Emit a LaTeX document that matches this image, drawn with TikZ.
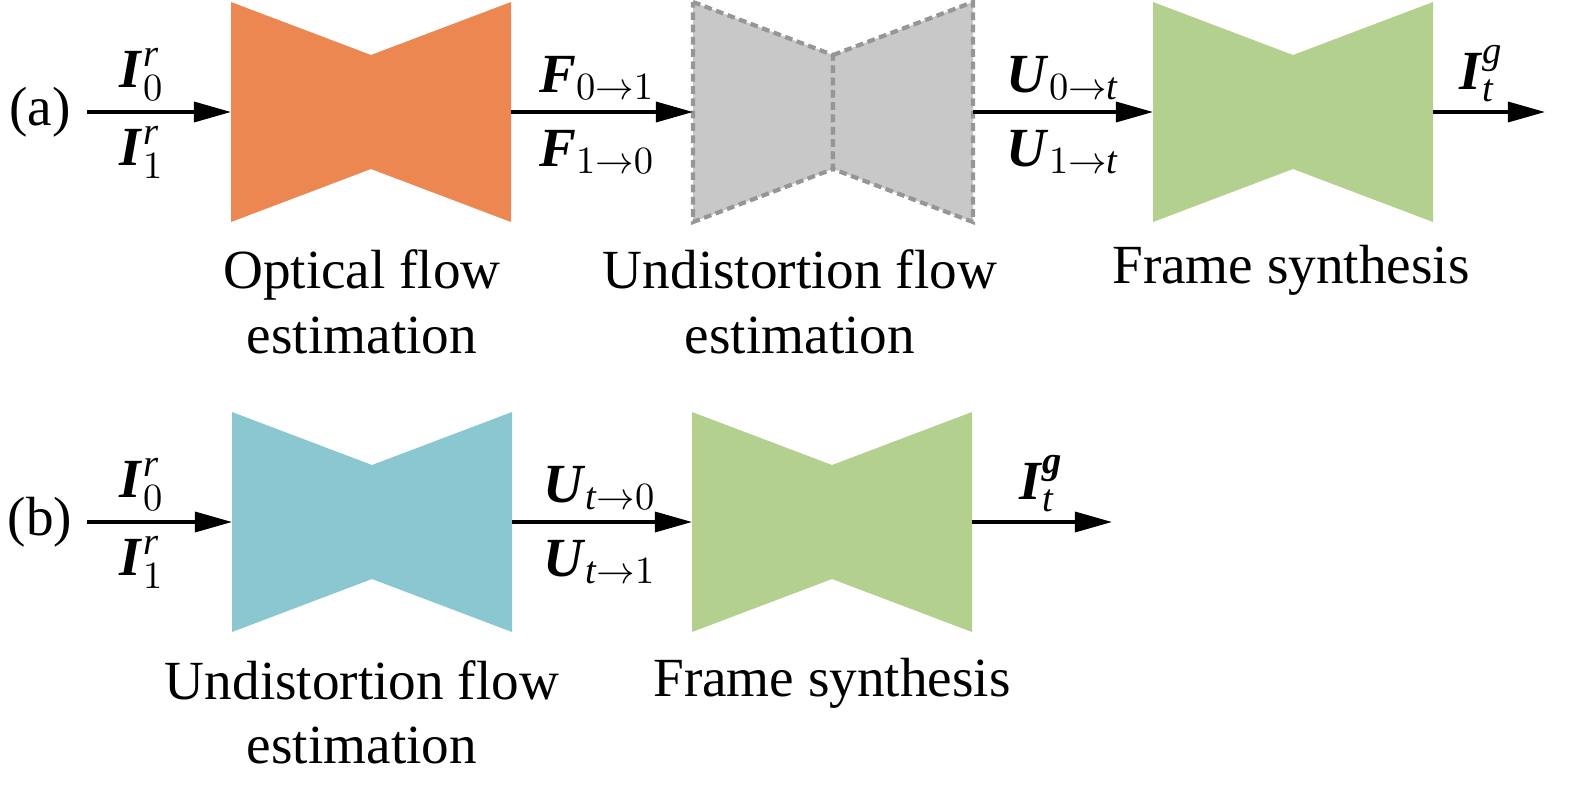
\documentclass[tikz,border=0pt]{standalone}
\usepackage{amsmath}
\usepackage{fontspec}
\setmainfont{Liberation Serif}
\usetikzlibrary{arrows.meta}

\definecolor{netorange}{RGB}{237,135,82}
\definecolor{netgray}{RGB}{200,200,200}
\definecolor{netedge}{RGB}{150,150,150}
\definecolor{netgreen}{RGB}{179,208,143}
\definecolor{netcyan}{RGB}{139,199,209}

\newcommand{\bvec}[1]{\textbf{\textit{#1}}}
% name, left x, top y, style
\newcommand{\flownet}[4]{%
	\path[#4] (#2,#3) -- ++(140,53) -- ++(0,114) -- ++(-140,53) -- cycle;
	\path[#4] (#2,#3) ++(140,53) -- ++(140,-53) -- ++(0,220) -- ++(-140,-53) -- cycle;
	\path (#2,#3) ++(0,110) coordinate (#1-in) ++(280,0) coordinate (#1-out);
}

\begin{document}
\begin{tikzpicture}[x=0.01cm, y=-0.01cm,
	font=\fontsize{15.7}{18.3}\selectfont,
	flow/.style={line width=0.95pt, -{Triangle[length=0.37cm, width=0.2cm]}},
	caption/.style={align=center, inner sep=0pt},
	sym/.style={inner sep=0pt}]
	\useasboundingbox (0,0) rectangle (1575,784);

	\flownet{ofe}{231}{2}{fill=netorange}
	\flownet{ufe}{693}{2}{fill=netgray, draw=netedge, line width=1.2pt, dash pattern=on 2.2pt off 1.3pt}
	\flownet{fsa}{1153}{2}{fill=netgreen}

	\flownet{ufb}{232}{412}{fill=netcyan}
	\flownet{fsb}{692}{412}{fill=netgreen}

	\node (la) at (40,112) {(a)};
	\node (lb) at (40,522) {(b)};

	\coordinate (a-start) at (87,112);
	\coordinate (a-end) at (1545,112);
	\coordinate (b-start) at (87,522);
	\coordinate (b-end) at (1112,522);

	\draw[flow] (a-start) -- (ofe-in);
	\draw[flow] (ofe-out) -- (ufe-in);
	\draw[flow] (ufe-out) -- (fsa-in);
	\draw[flow] (fsa-out) -- (a-end);

	\draw[flow] (b-start) -- (ufb-in);
	\draw[flow] (ufb-out) -- (fsb-in);
	\draw[flow] (fsb-out) -- (b-end);

	\node[sym] (ia0) at (142,74) {$\bvec{I}^{\textit{r}}_{0}$};
	\node[sym] (ia1) at (142,152) {$\bvec{I}^{\textit{r}}_{1}$};
	\node[sym] (f01) at (597,78) {$\bvec{F}_{0\rightarrow 1}$};
	\node[sym] (f10) at (597,152) {$\bvec{F}_{1\rightarrow 0}$};
	\node[sym] (u0t) at (1063,78) {$\bvec{U}_{0\rightarrow \textit{t}}$};
	\node[sym] (u1t) at (1063,152) {$\bvec{U}_{1\rightarrow \textit{t}}$};
	\node[sym] (iga) at (1482,74) {$\bvec{I}^{\textit{g}}_{\textit{t}}$};

	\node[sym] (ib0) at (142,484) {$\bvec{I}^{\textit{r}}_{0}$};
	\node[sym] (ib1) at (142,562) {$\bvec{I}^{\textit{r}}_{1}$};
	\node[sym] (ut0) at (600,488) {$\bvec{U}_{\textit{t}\rightarrow 0}$};
	\node[sym] (ut1) at (600,562) {$\bvec{U}_{\textit{t}\rightarrow 1}$};
	\node[sym] (igb) at (1042,484) {$\bvec{I}^{\bvec{g}}_{\textit{t}}$};

	\node[caption] (ofe-t) at (362,302) {Optical flow\\estimation};
	\node[caption] (ufe-t) at (800,302) {Undistortion flow\\estimation};
	\node[caption] (fsa-t) at (1291,270) {Frame synthesis};
	\node[caption] (ufb-t) at (362,712) {Undistortion flow\\estimation};
	\node[caption] (fsb-t) at (832,683) {Frame synthesis};
\end{tikzpicture}
\end{document}
